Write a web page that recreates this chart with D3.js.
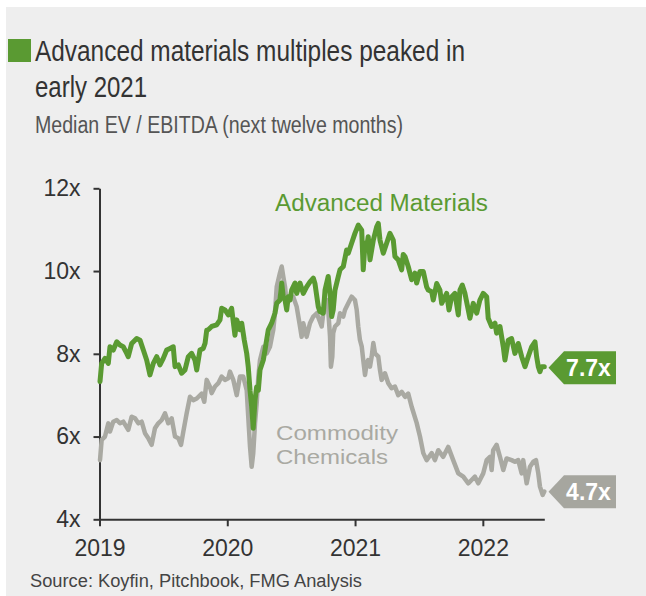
<!DOCTYPE html>
<html><head><meta charset="utf-8">
<script src="https://cdn.jsdelivr.net/npm/d3@7"></script>
<style>
html,body{margin:0;padding:0;background:#fff;}
svg{display:block;font-family:"Liberation Sans",Arial,Helvetica,sans-serif;}
</style></head>
<body>
<svg id="chart" width="646" height="596"></svg>
<script>
// ---- Data ----
const amYears = [
2019.004,2019.017,2019.043,2019.069,2019.082,2019.108,2019.135,2019.160,2019.186,2019.213,
2019.225,2019.252,2019.291,2019.317,2019.343,2019.369,2019.395,2019.421,2019.448,2019.473,
2019.499,2019.526,2019.552,2019.577,2019.591,2019.617,2019.643,2019.669,2019.695,2019.721,
2019.747,2019.761,2019.786,2019.812,2019.826,2019.839,2019.851,2019.878,2019.917,2019.943,
2019.956,2019.982,2020.008,2020.034,2020.060,2020.074,2020.099,2020.113,2020.133,2020.152,
2020.164,2020.178,2020.191,2020.203,2020.217,2020.230,2020.243,2020.256,2020.282,2020.295,
2020.321,2020.347,2020.373,2020.387,2020.412,2020.426,2020.438,2020.452,2020.465,2020.477,
2020.491,2020.504,2020.530,2020.543,2020.569,2020.595,2020.621,2020.647,2020.673,2020.686,
2020.712,2020.725,2020.751,2020.765,2020.790,2020.804,2020.817,2020.829,2020.843,2020.869,
2020.882,2020.908,2020.934,2020.947,2020.973,2020.999,2021.025,2021.052,2021.064,2021.078,
2021.091,2021.103,2021.117,2021.143,2021.169,2021.182,2021.195,2021.221,2021.247,2021.273,
2021.299,2021.312,2021.338,2021.365,2021.377,2021.391,2021.416,2021.443,2021.469,2021.482,
2021.508,2021.534,2021.560,2021.573,2021.600,2021.612,2021.639,2021.664,2021.678,2021.704,
2021.717,2021.735,2021.756,2021.782,2021.808,2021.821,2021.839,2021.860,2021.881,2021.899,
2021.925,2021.952,2021.977,2022.003,2022.030,2022.042,2022.069,2022.095,2022.108,2022.134,
2022.160,2022.173,2022.199,2022.225,2022.251,2022.277,2022.304,2022.330,2022.355,2022.382,
2022.408,2022.421,2022.434,2022.447,2022.460,2022.481];
const amValues = [
7.33,7.77,7.89,7.77,8.17,8.09,8.29,8.21,8.17,8.01,
7.93,8.25,8.37,8.33,8.09,7.85,7.49,7.77,7.93,7.73,
7.89,8.09,8.13,8.17,7.69,7.73,7.53,7.61,7.93,8.01,
7.85,7.61,8.09,8.13,8.25,8.57,8.58,8.66,8.70,8.82,
9.10,9.06,8.94,9.10,8.45,8.82,8.58,8.74,8.33,8.01,
7.69,7.12,6.72,6.20,6.88,7.20,7.12,7.61,7.85,8.09,
8.58,8.74,8.98,9.22,9.30,9.71,9.38,9.30,9.06,9.38,
9.30,9.54,9.71,9.46,9.71,9.46,9.62,9.74,9.83,9.70,
9.14,9.02,8.98,9.54,9.87,9.46,8.90,9.06,9.54,9.87,
10.03,10.11,10.51,10.43,10.67,10.91,11.11,10.99,10.03,10.67,
10.59,10.83,10.27,10.75,11.07,11.15,10.75,10.43,10.67,10.91,
10.75,10.35,10.27,10.03,10.40,10.35,10.11,9.79,9.95,9.71,
9.99,9.99,9.62,9.54,9.50,9.30,9.70,9.54,9.22,9.38,
9.46,9.06,9.38,9.46,8.94,9.54,9.66,9.46,9.14,8.86,
9.22,8.98,9.30,9.46,9.38,8.86,8.66,8.74,8.50,8.66,
8.17,7.85,8.33,8.37,8.01,8.25,7.93,7.69,7.93,8.17,
8.29,7.93,7.69,7.57,7.69,7.69];

const ccYears = [
2019.004,2019.017,2019.043,2019.069,2019.082,2019.108,2019.135,2019.160,2019.186,2019.225,
2019.252,2019.278,2019.304,2019.330,2019.356,2019.382,2019.408,2019.434,2019.460,2019.487,
2019.513,2019.538,2019.565,2019.591,2019.617,2019.638,2019.656,2019.682,2019.708,2019.734,
2019.761,2019.800,2019.820,2019.839,2019.865,2019.878,2019.904,2019.930,2019.956,2019.982,
2020.008,2020.021,2020.047,2020.074,2020.099,2020.125,2020.152,2020.164,2020.178,2020.191,
2020.203,2020.217,2020.230,2020.243,2020.256,2020.282,2020.308,2020.334,2020.360,2020.373,
2020.387,2020.412,2020.426,2020.438,2020.452,2020.465,2020.491,2020.516,2020.543,2020.569,
2020.582,2020.595,2020.621,2020.647,2020.673,2020.700,2020.739,2020.751,2020.765,2020.778,
2020.790,2020.804,2020.811,2020.822,2020.829,2020.843,2020.869,2020.882,2020.908,2020.921,
2020.947,2020.973,2020.999,2021.013,2021.025,2021.038,2021.052,2021.064,2021.078,2021.091,
2021.103,2021.117,2021.130,2021.143,2021.156,2021.182,2021.195,2021.208,2021.234,2021.260,
2021.286,2021.312,2021.338,2021.365,2021.391,2021.416,2021.443,2021.482,2021.508,2021.534,
2021.560,2021.600,2021.625,2021.651,2021.690,2021.729,2021.768,2021.808,2021.847,2021.886,
2021.912,2021.938,2021.964,2022.003,2022.030,2022.056,2022.069,2022.081,2022.108,2022.134,
2022.160,2022.186,2022.225,2022.251,2022.277,2022.304,2022.316,2022.343,2022.369,2022.395,
2022.416,2022.434,2022.447,2022.468,2022.481];
const ccValues = [
5.43,5.92,6.00,6.32,6.12,6.36,6.40,6.32,6.36,6.16,
6.48,6.44,6.32,6.36,6.08,5.96,5.80,6.20,6.32,6.40,
6.56,6.32,6.44,6.00,5.96,5.80,6.12,6.56,6.96,6.88,
6.92,7.04,6.84,7.37,7.20,7.05,7.21,7.29,7.45,7.37,
7.41,7.57,7.37,7.00,7.45,7.45,7.12,6.48,5.75,5.27,
5.59,6.32,6.80,7.45,7.85,8.17,8.01,8.17,8.58,8.98,
9.62,9.95,10.11,9.87,9.62,9.22,9.38,9.38,9.14,8.66,
8.41,8.74,8.41,8.74,8.90,8.98,8.66,8.98,9.14,9.30,
9.06,8.42,7.69,7.93,8.50,8.66,8.74,8.98,8.90,9.06,
9.22,9.38,9.30,9.06,8.66,8.34,8.18,7.85,7.49,7.77,
7.85,7.69,7.93,8.26,8.01,7.93,7.61,7.37,7.53,7.29,
7.17,7.21,7.00,7.08,6.96,7.04,6.72,6.33,6.00,5.60,
5.43,5.60,5.43,5.67,5.51,5.75,5.43,5.11,5.03,4.87,
4.95,5.03,4.87,5.11,5.43,5.51,5.19,5.67,5.80,5.51,
5.19,5.47,5.43,5.39,5.43,5.11,5.43,4.87,5.27,5.39,
5.43,5.11,4.79,4.59,4.67];

const yearTicks = [2019, 2020, 2021, 2022];
const yTicks = [4, 6, 8, 10, 12];
const seriesNames = ["Advanced Materials", "Commodity Chemicals"];
const endValues = [7.7, 4.7];
const endLabels = ["7.7x", "4.7x"];
const titleLines = ["Advanced materials multiples peaked in", "early 2021"];
const subtitle = "Median EV / EBITDA (next twelve months)";
const source = "Source: Koyfin, Pitchbook, FMG Analysis";

// ---- Styles ----
const GREEN = "#5a9a32";
const GREY = "#a9a9a2";
const GREYBOX = "#a6a69f";
const TXT = "#333333";

const svg = d3.select("#chart");
svg.append("rect").attr("x", 6).attr("y", 7).attr("width", 640).attr("height", 589).attr("fill", "#eeeeee");

// Title block
svg.append("rect").attr("x", 8).attr("y", 39).attr("width", 23).attr("height", 23).attr("fill", GREEN);
svg.append("text").attr("x", 35).attr("y", 61).attr("font-size", 30).attr("fill", TXT)
  .attr("textLength", 430).attr("lengthAdjust", "spacingAndGlyphs").text(titleLines[0]);
svg.append("text").attr("x", 35).attr("y", 96.5).attr("font-size", 30).attr("fill", TXT)
  .attr("textLength", 112).attr("lengthAdjust", "spacingAndGlyphs").text(titleLines[1]);
svg.append("text").attr("x", 35).attr("y", 133).attr("font-size", 23).attr("fill", "#555")
  .attr("textLength", 368).attr("lengthAdjust", "spacingAndGlyphs").text(subtitle);

// Scales
const x = d3.scaleLinear().domain([2019, 2022.481]).range([99.5, 544.3]);
const y = d3.scaleLinear().domain([4, 12]).range([519.3, 188.3]);

// Axes
const yAxis = svg.append("g").attr("transform", "translate(99.5,0)")
  .call(d3.axisLeft(y).tickValues(yTicks).tickFormat(d => d + "x").tickSize(6).tickSizeOuter(0).tickPadding(13));
const xAxis = svg.append("g").attr("transform", "translate(0,519.3)")
  .call(d3.axisBottom(x).tickValues(yearTicks).tickFormat(d3.format("d")).tickSize(7).tickSizeOuter(0).tickPadding(13));
[yAxis, xAxis].forEach(g => {
  g.selectAll("path.domain").attr("stroke", "#333").attr("stroke-width", 2);
  g.selectAll(".tick line").attr("stroke", "#333").attr("stroke-width", 2);
  g.selectAll(".tick text").attr("fill", TXT).attr("font-size", 23)
    .attr("font-family", "'Liberation Sans',Arial,sans-serif");
});

// Lines
const line = d3.line().x(d => x(d[0])).y(d => y(d[1]));
const ccData = ccYears.map((t, i) => [t, ccValues[i]]);
const amData = amYears.map((t, i) => [t, amValues[i]]);
svg.append("path").datum(ccData).attr("d", line).attr("fill", "none").attr("stroke", GREY)
  .attr("stroke-width", 4.5).attr("stroke-linejoin", "round").attr("stroke-linecap", "round");
svg.append("path").datum(amData).attr("d", line).attr("fill", "none").attr("stroke", GREEN)
  .attr("stroke-width", 5).attr("stroke-linejoin", "round").attr("stroke-linecap", "round");

// Series labels
svg.append("text").attr("x", 275).attr("y", 210.5).attr("font-size", 23).attr("fill", GREEN)
  .attr("textLength", 213).attr("lengthAdjust", "spacingAndGlyphs").text(seriesNames[0]);
const ccWords = seriesNames[1].split(" ");
svg.append("text").attr("x", 276).attr("y", 440).attr("font-size", 21).attr("fill", GREY)
  .attr("textLength", 122).attr("lengthAdjust", "spacingAndGlyphs").text(ccWords[0]);
svg.append("text").attr("x", 276).attr("y", 463.5).attr("font-size", 21).attr("fill", GREY)
  .attr("textLength", 112).attr("lengthAdjust", "spacingAndGlyphs").text(ccWords[1]);

// End labels
const endColors = [GREEN, GREYBOX];
endValues.forEach((v, i) => {
  const cy = y(v) + 1.5;
  const tip = 548.5, bx = 564, ex = 616, h = 16.5;
  svg.append("polygon")
    .attr("points", [[tip, cy], [bx, cy - h], [ex, cy - h], [ex, cy + h], [bx, cy + h]].map(p => p.join(",")).join(" "))
    .attr("fill", endColors[i]);
  svg.append("text").attr("x", 588.5).attr("y", cy + 8.5).attr("text-anchor", "middle")
    .attr("font-size", 23).attr("font-weight", "bold").attr("fill", "#fff").text(endLabels[i]);
});

// Source
svg.append("text").attr("x", 30).attr("y", 586.5).attr("font-size", 18).attr("fill", "#444")
  .attr("textLength", 332).attr("lengthAdjust", "spacingAndGlyphs").text(source);
</script>
</body></html>
